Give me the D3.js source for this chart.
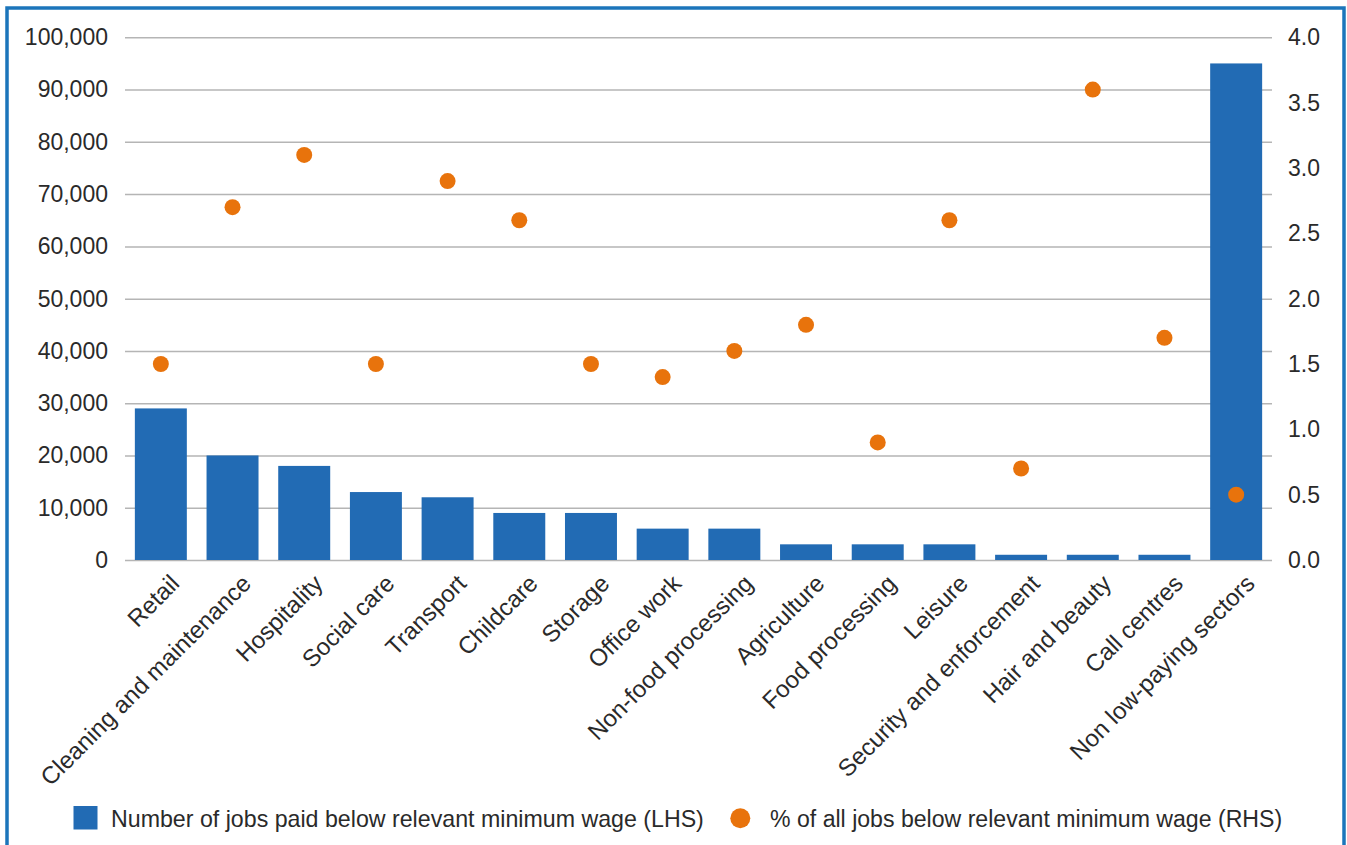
<!DOCTYPE html>
<html>
<head>
<meta charset="utf-8">
<script src="https://cdn.jsdelivr.net/npm/d3@7/dist/d3.min.js"></script>
<style>
  html, body { margin: 0; padding: 0; background: #ffffff; }
  svg { display: block; }
  text { font-family: "Liberation Sans", Arial, Helvetica, sans-serif; fill: #2a2a2a; }
</style>
</head>
<body>
<svg id="chart" width="1347" height="845"></svg>
<script>
// Sectors, in display order
const sectors = [
  "Retail", "Cleaning and maintenance", "Hospitality", "Social care", "Transport",
  "Childcare", "Storage", "Office work", "Non-food processing", "Agriculture",
  "Food processing", "Leisure", "Security and enforcement", "Hair and beauty",
  "Call centres", "Non low-paying sectors"
];
// Number of jobs paid below relevant minimum wage (left axis)
const jobsBelow = [29000, 20000, 18000, 13000, 12000, 9000, 9000, 6000, 6000, 3000, 3000, 3000, 1000, 1000, 1000, 95000];
// Percentage of all jobs below relevant minimum wage (right axis)
const pctBelow = [1.5, 2.7, 3.1, 1.5, 2.9, 2.6, 1.5, 1.4, 1.6, 1.8, 0.9, 2.6, 0.7, 3.6, 1.7, 0.5];

const leftTicks = [0, 10000, 20000, 30000, 40000, 50000, 60000, 70000, 80000, 90000, 100000];
const rightTicks = [0, 0.5, 1.0, 1.5, 2.0, 2.5, 3.0, 3.5, 4.0];

const legendLabels = [
  "Number of jobs paid below relevant minimum wage (LHS)",
  "% of all jobs below relevant minimum wage (RHS)"
];

const barColor = "#226bb4";
const dotColor = "#e8730c";
const gridColor = "#b5b5b5";
const frameColor = "#1b75bb";

const svg = d3.select("#chart");
const plot = { left: 125, right: 1272, top: 37.3, bottom: 560 };

// Frame
svg.append("rect")
  .attr("x", 7).attr("y", 8)
  .attr("width", 1337).attr("height", 900)
  .attr("fill", "none")
  .attr("stroke", frameColor)
  .attr("stroke-width", 3.5);

const x = d3.scaleBand()
  .domain(sectors)
  .range([plot.left, plot.right])
  .paddingInner(0.275)
  .paddingOuter(0.1375);

const yL = d3.scaleLinear().domain([0, 100000]).range([plot.bottom, plot.top]);
const yR = d3.scaleLinear().domain([0, 4]).range([plot.bottom, plot.top]);

// Gridlines + left axis
const gL = svg.append("g")
  .attr("transform", `translate(${plot.left},0)`)
  .call(d3.axisLeft(yL)
    .tickValues(leftTicks)
    .tickSize(-(plot.right - plot.left))
    .tickPadding(17)
    .tickFormat(d3.format(",")));
gL.select(".domain").remove();
gL.selectAll(".tick line").attr("stroke", gridColor).attr("stroke-width", 1.5);
gL.selectAll(".tick text")
  .attr("font-size", 23)
  .attr("fill", "#2a2a2a")
  .style("font-family", "'Liberation Sans', Arial, sans-serif");

// Right axis (labels only)
const gR = svg.append("g")
  .attr("transform", `translate(${plot.right},0)`)
  .call(d3.axisRight(yR)
    .tickValues(rightTicks)
    .tickSize(0)
    .tickPadding(16)
    .tickFormat(d3.format(".1f")));
gR.select(".domain").remove();
gR.selectAll(".tick text")
  .attr("font-size", 23)
  .attr("fill", "#2a2a2a")
  .style("font-family", "'Liberation Sans', Arial, sans-serif");

// Bars
svg.append("g").selectAll("rect")
  .data(sectors)
  .join("rect")
  .attr("x", d => x(d))
  .attr("width", x.bandwidth())
  .attr("y", (d, i) => yL(jobsBelow[i]))
  .attr("height", (d, i) => yL(0) - yL(jobsBelow[i]))
  .attr("fill", barColor);

// Dots
svg.append("g").selectAll("circle")
  .data(sectors)
  .join("circle")
  .attr("cx", d => x(d) + x.bandwidth() / 2)
  .attr("cy", (d, i) => yR(pctBelow[i]))
  .attr("r", 8)
  .attr("fill", dotColor);

// Category labels, rotated
svg.append("g").selectAll("text")
  .data(sectors)
  .join("text")
  .attr("transform", d => `translate(${x(d) + x.bandwidth() / 2 + 20},585) rotate(-45)`)
  .attr("text-anchor", "end")
  .attr("font-size", 24)
  .text(d => d);

// Legend
const lg = svg.append("g");
lg.append("rect")
  .attr("x", 73.5).attr("y", 806)
  .attr("width", 24).attr("height", 23.5)
  .attr("fill", barColor);
lg.append("text")
  .attr("x", 111).attr("y", 826.7)
  .attr("font-size", 23.2)
  .text(legendLabels[0]);
lg.append("circle")
  .attr("cx", 740.3).attr("cy", 818.3)
  .attr("r", 10)
  .attr("fill", dotColor);
lg.append("text")
  .attr("x", 770).attr("y", 826.7)
  .attr("font-size", 23.1)
  .text(legendLabels[1]);
</script>
</body>
</html>
